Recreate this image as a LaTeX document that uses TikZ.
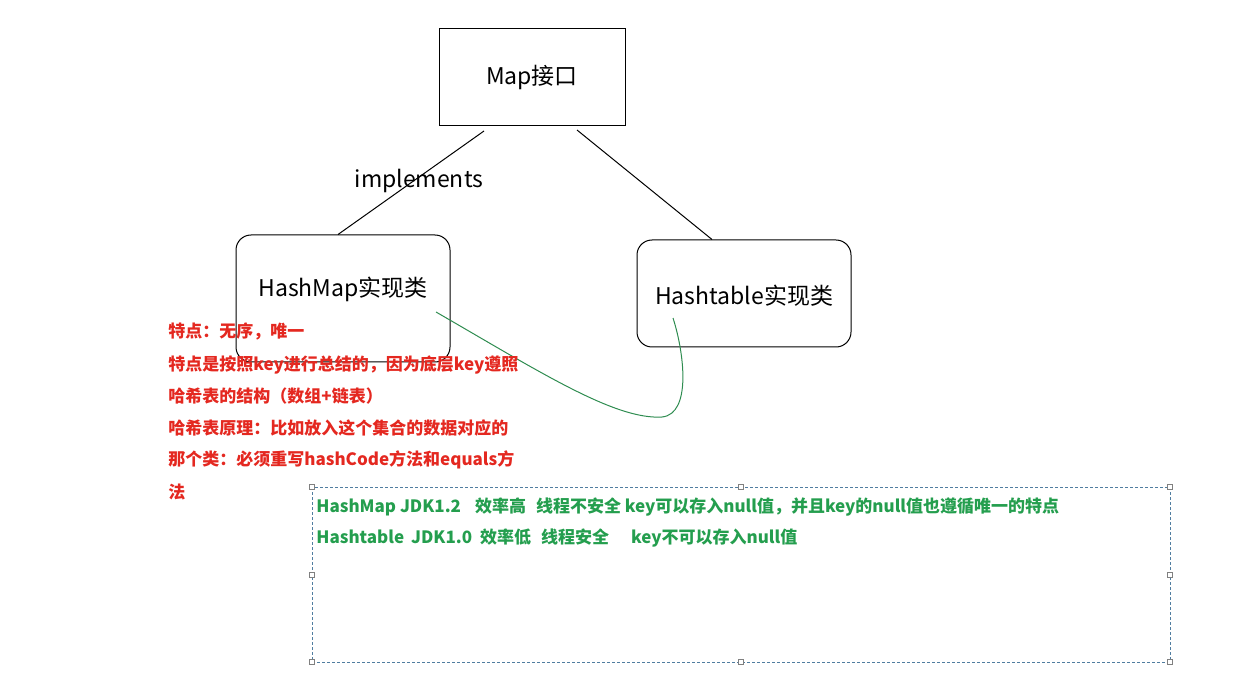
\documentclass[tikz,border=0pt]{standalone}
\usepackage{fontspec}
\setmainfont{Noto Sans CJK SC}
\usepackage{xcolor}
\usetikzlibrary{positioning, calc}
\definecolor{notered}{RGB}{228,40,32}
\definecolor{notegreen}{RGB}{36,158,78}
\definecolor{curvegreen}{RGB}{46,140,80}
\definecolor{framedash}{RGB}{80,125,160}
\def\boxfont{\fontsize{11.5pt}{13pt}\selectfont}
\def\notefont{\fontsize{8.5pt}{10pt}\selectfont\bfseries}
\begin{document}
\begin{tikzpicture}[x=0.5pt, y=-0.5pt,
    mapbox/.style={draw, line width=0.5pt, minimum width=93pt, minimum height=48.5pt, inner sep=0pt, font=\boxfont},
    classbox/.style={draw, line width=0.5pt, rounded corners=7.5pt, minimum width=107pt, inner sep=0pt, font=\boxfont},
    note/.style={anchor=west, inner sep=0pt, font=\notefont},
    handle/.style={draw=gray, fill=white, line width=0.4pt}]
    \useasboundingbox (0,0) rectangle (1254,695);

    % boxes
    \node[mapbox] (map) at (532,77.5) {Map接口};
    \node[classbox, minimum height=63.5pt, text height=10pt, text depth=12pt] (hashmap) at (343,298.5) {HashMap实现类};
    \node[classbox, minimum height=53.5pt, text height=13.5pt, text depth=2.5pt] (hashtable) at (744,293.5) {Hashtable实现类};

    % lines
    \coordinate (m1) at (484,131);
    \coordinate (m2) at (577,130);
    \draw[line width=0.5pt] (m1) -- ([xshift=-2.5pt]hashmap.north);
    \draw[line width=0.5pt] (m2) -- ([xshift=-16pt]hashtable.north);
    \node[font=\boxfont, inner sep=0pt] (impl) at (419,181) {implements};

    % green curve
    \coordinate (c1) at (436,312);
    \coordinate (c2) at (673,318);
    \draw[curvegreen, line width=0.5pt]
        (c1) .. controls (540,372) and (615,420) .. (662,417)
             .. controls (692,414) and (684,352) .. (c2);

    % red notes
    \foreach \y/\txt in {
        331/特点：无序，唯一,
        365/特点是按照key进行总结的，因为底层key遵照,
        396/哈希表的结构（数组+链表）,
        428/哈希表原理：比如放入这个集合的数据对应的,
        460/那个类：必须重写hashCode方法和equals方,
        492/法}{
        \node[note, text=notered] at (168,\y) {\txt};
    }

    % dashed frame
    \draw[framedash, line width=0.5pt, dash pattern=on 1.5pt off 1pt] (312,487) rectangle (1170,662);
    \foreach \px/\py in {312/487, 741/487, 1170/487, 312/575, 1170/575, 312/662, 741/662, 1170/662}
    {
        \draw[handle] (\px-2.5,\py-2.5) rectangle (\px+2.5,\py+2.5);
    }

    % green notes
    \node[note, text=notegreen] (line1) at (316,507)
        {HashMap JDK1.2\hspace{7pt}效率高\hspace{5pt}线程不安全 key可以存入null值，并且key的null值也遵循唯一的特点};
    \node[note, text=notegreen] (line2) at (316,538)
        {Hashtable\hspace{3.5pt}JDK1.0\hspace{4pt}效率低\hspace{5pt}线程安全\hspace{11pt}key不可以存入null值};
\end{tikzpicture}
\end{document}
